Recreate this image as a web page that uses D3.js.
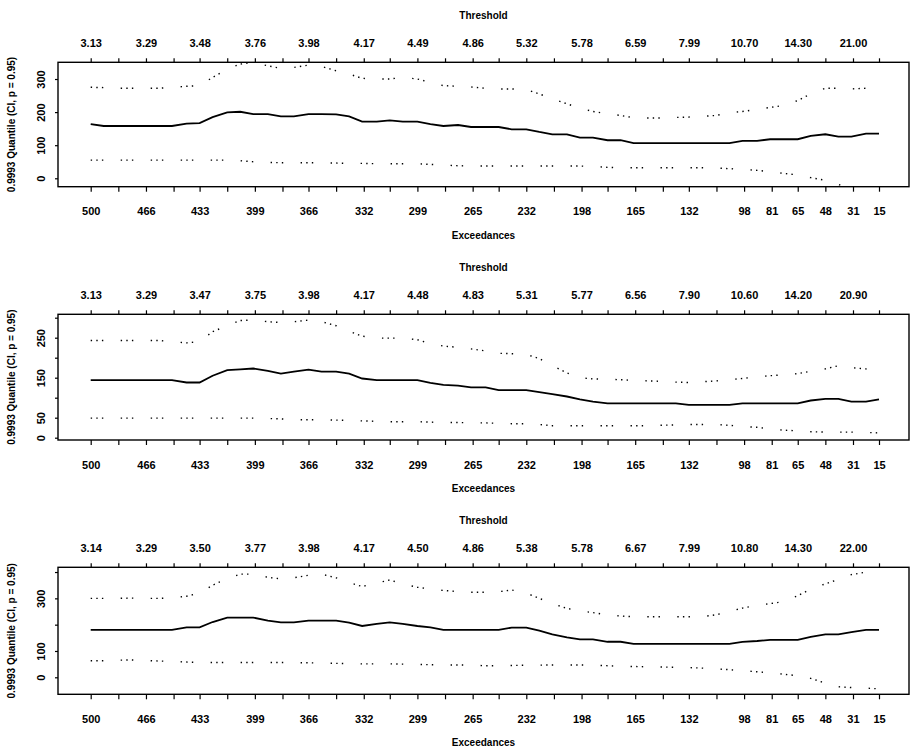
<!DOCTYPE html>
<html lang="en">
<head>
<meta charset="UTF-8">
<title>0.9993 Quantile vs Exceedances</title>
<script src="https://d3js.org/d3.v7.min.js"></script>
<style>
    body { margin: 0; background: #fff; }
    text { font-family: "Liberation Sans", Arial, sans-serif; fill: #000; }
    path.est { stroke: #000; stroke-width: 1.8px; fill: none; }
    path.ci { stroke: #000; stroke-width: 1.4px; fill: none;
              stroke-dasharray: 1.4, 4.2, 1.4, 4.2, 1.4, 17.4; }
    rect.frame { fill: none; stroke: #000; stroke-width: 1.4px; }
    .axis path.domain { display: none; }
    .axis line { stroke: #000; stroke-width: 1.2px; }
    .axis text { font-size: 11px; font-weight: bold; }
    .title { font-size: 10px; font-weight: bold; }
</style>
</head>
<body>
<svg width="910" height="751"></svg>
<script>
// number of exceedances at which the curves were read (half tick steps)
const exc = [500,492,483,475,467,458,450,441,433,425,416,408,400,391,383,375,366,358,349,341,
             333,324,316,308,299,291,283,274,266,257,249,241,232,224,216,207,199,191,182,174,
             166,157,149,140,132,124,115,107,99,90,82,74,65,57,48,40,32,23,15];

// panel 1
const est1 = [164,158,158,158,158,158,158,165,167,185,199,201,194,194,187,187,194,194,193,187,
              171,171,175,171,171,164,158,161,155,155,155,148,148,140,133,133,123,123,115,115,
              106,106,106,106,106,106,106,106,113,113,118,118,118,128,133,126,126,135,135];
const up1 = [275,274,272,272,272,272,275,278,280,305,330,345,350,340,332,335,342,338,325,315,
             302,300,300,305,300,290,280,278,276,272,270,270,268,255,240,225,212,202,195,190,
             183,182,182,184,185,187,190,198,202,208,214,220,235,255,272,272,270,272,278];
const lo1 = [55,55,55,55,55,55,55,55,55,55,55,53,50,48,47,47,47,47,46,45,
             45,44,44,44,44,42,40,38,37,37,37,37,37,37,37,37,37,36,33,32,
             32,32,32,32,32,32,31,29,27,24,20,15,10,2,-6,-18,-35,-50,-60];

// panel 2
const est2 = [144,144,144,144,144,144,144,138,138,155,169,171,173,167,160,165,170,165,165,160,
              148,144,144,144,144,137,132,130,126,126,119,119,119,114,109,103,96,90,86,86,
              86,86,86,86,82,82,82,82,86,86,86,86,86,93,97,97,90,90,96];
const up2 = [243,243,243,243,243,243,240,237,240,265,280,293,294,290,288,290,294,290,280,266,
             254,249,249,249,245,235,229,226,222,217,211,210,208,198,180,162,150,147,146,145,
             143,142,141,139,138,140,142,145,148,152,155,157,160,166,172,180,175,172,170];
const lo2 = [49,49,49,49,49,49,49,49,49,49,49,49,49,48,47,45,45,45,44,43,
             42,41,40,40,40,39,38,38,37,37,36,35,35,33,30,30,30,30,30,30,
             30,30,31,32,33,33,33,31,28,26,22,19,17,15,14,14,14,13,12];

// panel 3
const est3 = [180,180,180,180,180,180,180,190,190,210,227,227,227,215,209,209,215,215,215,208,
              195,203,209,203,195,190,180,180,180,180,180,189,189,177,163,152,144,144,135,135,
              127,127,127,127,127,127,127,127,135,138,142,142,142,154,163,163,172,180,180];
const up3 = [300,300,300,301,300,300,302,308,320,350,375,392,392,380,374,378,388,392,378,360,
             345,358,370,355,342,336,330,326,323,323,325,332,320,300,280,262,252,246,237,233,
             230,230,230,230,230,230,238,250,263,274,280,287,310,335,355,372,390,400,405];
const lo3 = [63,63,65,66,64,62,60,58,56,56,56,56,56,56,56,56,55,54,53,52,
             51,51,51,50,49,48,47,47,46,44,44,45,46,46,47,47,47,46,44,42,
             41,40,39,38,37,35,32,29,25,21,17,12,6,-4,-22,-36,-39,-41,-44];

// axis ticks
const tickExc = [500,483,466,449,433,416,399,382,366,349,332,316,299,282,265,249,232,215,198,182,
                 165,148,132,115,98,81,65,48,31,15];
const excLabels = [500,466,433,399,366,332,299,265,232,198,165,132,98,81,65,48,31,15];
// thresholds shown above every second tick
const thr1 = ["3.13","3.29","3.48","3.76","3.98","4.17","4.49","4.86","5.32","5.78","6.59","7.99","10.70","14.30","21.00"];
const thr2 = ["3.13","3.29","3.47","3.75","3.98","4.17","4.48","4.83","5.31","5.77","6.56","7.90","10.60","14.20","20.90"];
const thr3 = ["3.14","3.29","3.50","3.77","3.98","4.17","4.50","4.86","5.38","5.78","6.67","7.99","10.80","14.30","22.00"];

const yTicks1 = [0,100,200,300], yLab1 = [0,100,200,300];
const yTicks2 = [0,50,100,150,200,250,300], yLab2 = [0,50,150,250];
const yTicks3 = [0,100,200,300,400], yLab3 = [0,100,300];

let svg = d3.select('svg');
let left = 58, right = 909;
let xscale = d3.scaleLinear().domain([500, 15]).range([90.7, 879]);

let panels = [
    {top: 62.3, bottom: 186.7, ydom: [-25.4, 350.5], yt: yTicks1, yl: yLab1, thr: thr1, est: est1, up: up1, lo: lo1},
    {top: 314.3, bottom: 440, ydom: [-5.75, 308.5], yt: yTicks2, yl: yLab2, thr: thr2, est: est2, up: up2, lo: lo2},
    {top: 567.3, bottom: 694.3, ydom: [-64.6, 418], yt: yTicks3, yl: yLab3, thr: thr3, est: est3, up: up3, lo: lo3}
];

panels.forEach(function (p, k) {
    let yscale = d3.scaleLinear().domain(p.ydom).range([p.bottom, p.top]);
    let g = svg.append('g');

    g.append('clipPath').attr('id', 'clip' + k)
        .append('rect').attr('x', left).attr('y', p.top)
        .attr('width', right - left).attr('height', p.bottom - p.top);

    let line = function (vals) {
        return d3.line()
            .x(function (d, i) { return xscale(exc[i]); })
            .y(function (d) { return yscale(d); })(vals);
    };
    let fig = g.append('g').attr('clip-path', 'url(#clip' + k + ')');
    fig.append('path').attr('class', 'ci').attr('d', line(p.up));
    fig.append('path').attr('class', 'ci').attr('d', line(p.lo));
    fig.append('path').attr('class', 'est').attr('d', line(p.est));

    // bottom axis: exceedances
    let xb = g.append('g').attr('class', 'axis')
        .attr('transform', 'translate(0,' + p.bottom + ')')
        .call(d3.axisBottom(xscale).tickValues(tickExc).tickSize(5).tickSizeOuter(0)
            .tickFormat(function (d) { return excLabels.indexOf(d) >= 0 ? d : ''; }));
    xb.selectAll('text').attr('y', 28.5).attr('dy', null);

    // top axis: thresholds
    let xt = g.append('g').attr('class', 'axis')
        .attr('transform', 'translate(0,' + p.top + ')')
        .call(d3.axisTop(xscale).tickValues(tickExc).tickSize(4).tickSizeOuter(0)
            .tickFormat(function (d, i) { return i % 2 === 0 ? p.thr[i / 2] : ''; }));
    xt.selectAll('text').attr('y', -15).attr('dy', null);

    // left axis, labels written along the axis
    let ya = g.append('g').attr('class', 'axis')
        .attr('transform', 'translate(' + left + ',0)')
        .call(d3.axisLeft(yscale).tickValues(p.yt).tickSize(3).tickSizeOuter(0)
            .tickFormat(function (d) { return p.yl.indexOf(d) >= 0 ? d : ''; }));
    ya.selectAll('text').attr('x', 0).attr('dy', null)
        .attr('text-anchor', 'middle')
        .attr('transform', 'translate(-13,0) rotate(-90)');

    g.append('rect').attr('class', 'frame')
        .attr('x', left).attr('y', p.top)
        .attr('width', right - left).attr('height', p.bottom - p.top);

    let cx = (left + right) / 2;
    g.append('text').attr('class', 'title').attr('x', cx).attr('y', p.top - 43.5)
        .attr('text-anchor', 'middle').text('Threshold');
    g.append('text').attr('class', 'title').attr('x', cx).attr('y', p.bottom + 52)
        .attr('text-anchor', 'middle').text('Exceedances');
    g.append('text').attr('class', 'title')
        .attr('transform', 'translate(15,' + ((p.top + p.bottom) / 2) + ') rotate(-90)')
        .attr('text-anchor', 'middle').text('0.9993 Quantile (CI, p = 0.95)');
});
</script>
</body>
</html>
